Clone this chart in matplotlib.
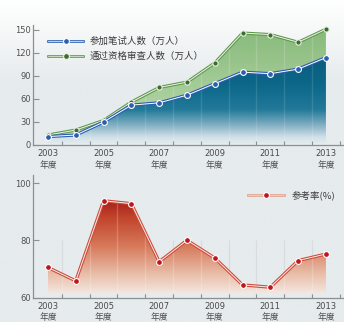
import numpy as np
import matplotlib
matplotlib.use("Agg")
import matplotlib.pyplot as plt
from matplotlib.colors import LinearSegmentedColormap
from matplotlib.lines import Line2D

plt.rcParams['font.family'] = ['Noto Sans CJK SC', 'DejaVu Sans']

# ---- data ----
years = [2003, 2004, 2005, 2006, 2007, 2008, 2009, 2010, 2011, 2012, 2013]
exam_takers = [11, 13, 30, 52, 55, 65, 80, 95, 93, 99, 114]          # 参加笔试人数（万人）
qualified = [13, 19.5, 32, 56, 75, 82, 107, 146, 144, 134, 151]       # 通过资格审查人数（万人）
attend_rate = [70.5, 65.8, 93.8, 92.8, 72.5, 80.0, 73.8, 64.4, 63.6, 72.9, 75.2]  # 参考率(%)
label_years = [2003, 2005, 2007, 2009, 2011, 2013]
top_yticks = [0, 30, 60, 90, 120, 150]
bottom_yticks = [60, 80, 100]

W, H = 344, 322
fig = plt.figure(figsize=(W / 100, H / 100), dpi=100)

# background: white at the top fading to a pale grey-blue
bg = fig.add_axes([0, 0, 1, 1], zorder=-10)
bg_cmap = LinearSegmentedColormap.from_list(
    "bg", [(0, "#e6ebed"), (0.75, "#e6ebed"), (0.9, "#f6f8f8"), (1.0, "#ffffff")])
bg.imshow(np.linspace(0, 1, 256).reshape(-1, 1), origin="lower", cmap=bg_cmap,
          extent=[0, 1, 0, 1], aspect="auto")
bg.set_axis_off()

x_lo, x_hi = 2002.46, 2013.65
half_years = [y + 0.5 for y in years[:-1]] + [2013.5]


def gradient_fill(ax, x, ybot, ytop, cmap, vmin, vmax, z):
    poly = ax.fill_between(x, ybot, ytop, facecolor="none", edgecolor="none")
    path = poly.get_paths()[0]
    im = ax.imshow(np.linspace(0, 1, 256).reshape(-1, 1), origin="lower", cmap=cmap,
                   extent=[x[0], x[-1], vmin, vmax], aspect="auto", zorder=z,
                   interpolation="bilinear")
    im.set_clip_path(path, transform=ax.transData)
    return path


def stripes(ax, path, lo, hi, color, alpha, z):
    vl = ax.vlines(half_years[:-1], lo, hi, colors=color, linewidth=1.0, alpha=alpha, zorder=z)
    vl.set_clip_path(path, transform=ax.transData)


def double_line(ax, x, y, outer, inner, mface, medge, z, lw=2.3, ms=4.2):
    ax.plot(x, y, color=outer, lw=lw, zorder=z, solid_capstyle="round", solid_joinstyle="round")
    ax.plot(x, y, color=inner, lw=0.7, zorder=z + 0.1, solid_joinstyle="round")
    ax.plot(x, y, ls="none", marker="o", ms=ms, mfc=mface, mec=medge, mew=0.8, zorder=z + 0.2)


def legend_entry(ax, x0, x1, xm, y, outer, inner, mface, medge, text, tx, fs):
    kw = dict(transform=ax.transAxes, clip_on=False)
    ax.add_line(Line2D([x0, x1], [y, y], color=outer, lw=1.9, zorder=6, **kw))
    ax.add_line(Line2D([x0, x1], [y, y], color=inner, lw=0.5, zorder=6.1, **kw))
    ax.add_line(Line2D([xm], [y], ls="none", marker="o", ms=4.2, mfc=mface, mec=medge,
                       mew=0.8, zorder=6.2, **kw))
    ax.text(tx, y, text, transform=ax.transAxes, fontsize=fs, color="#3a3a3a",
            va="center", ha="left", zorder=6)


def style_axes(ax, yticks, ylim):
    ax.set_facecolor("none")
    ax.set_xlim(x_lo, x_hi)
    ax.set_ylim(*ylim)
    for s in ("top", "right"):
        ax.spines[s].set_visible(False)
    for s in ("left", "bottom"):
        ax.spines[s].set_color("#8c8f90")
        ax.spines[s].set_linewidth(0.9)
    ax.set_yticks(yticks)
    ax.set_yticklabels([str(v) for v in yticks], family="DejaVu Sans")
    ax.set_xticks(half_years)
    ax.set_xticklabels([])
    ax.tick_params(axis="y", direction="in", length=4, width=0.8, color="#8c8f90",
                   labelsize=6, labelcolor="#505050", pad=1.5)
    ax.tick_params(axis="x", direction="in", length=3, width=0.8, color="#8c8f90")
    for yr in label_years:
        ax.annotate(str(yr), xy=(yr, 0), xycoords=("data", "axes fraction"),
                    xytext=(0, -6.3), textcoords="offset points", ha="center", va="center",
                    fontsize=6, color="#4a4a4a", family="DejaVu Sans")
        ax.annotate("年度", xy=(yr, 0), xycoords=("data", "axes fraction"),
                    xytext=(0, -14.6), textcoords="offset points", ha="center", va="center",
                    fontsize=6.3, color="#4a4a4a")


# ---- top chart: applicants ----
ax1 = fig.add_axes([33 / W, 1 - 145 / H, 311 / W, 120 / H])
blue_cmap = LinearSegmentedColormap.from_list("blue", [
    (0.0, "#e6edef"), (0.08, "#d2e2e8"), (0.22, "#7eadc1"), (0.38, "#22799a"),
    (0.65, "#0c6789"), (1.0, "#0a5b7d")])
green_cmap = LinearSegmentedColormap.from_list("green", [
    (0.0, "#c9e0c0"), (0.4, "#aacf9d"), (1.0, "#86b979")])
p_blue = gradient_fill(ax1, years, np.zeros(len(years)), exam_takers, blue_cmap, 0, 120, 1)
p_green = gradient_fill(ax1, years, exam_takers, qualified, green_cmap, 0, 155, 1)
stripes(ax1, p_blue, 0, 160, "white", 0.12, 1.5)
stripes(ax1, p_green, 0, 160, "white", 0.16, 1.5)
double_line(ax1, years, qualified, "#5e994e", "#eef5e9", "#3d6c30", "#e8f2e2", 3, ms=3.8)
double_line(ax1, years, exam_takers, "#2b5eb0", "#ffffff", "#2b5eb0", "#ffffff", 4)
style_axes(ax1, top_yticks, (0, 156.5))
legend_entry(ax1, 0.048, 0.161, 0.106, 0.867, "#2b5eb0", "#ffffff", "#2b5eb0", "#ffffff",
             "参加笔试人数（万人）", 0.183, 6.8)
legend_entry(ax1, 0.048, 0.161, 0.106, 0.742, "#5e994e", "#eef5e9", "#3d6c30", "#e8f2e2",
             "通过资格审查人数（万人）", 0.183, 6.8)

# ---- bottom chart: attendance rate ----
ax2 = fig.add_axes([33 / W, 1 - 297.5 / H, 311 / W, 122.5 / H])
ax2.vlines(half_years[:-1], 60, 80, colors="#d8dcde", linewidth=0.9, zorder=0.5)
red_cmap = LinearSegmentedColormap.from_list("red", [
    (0.0, "#f3e6df"), (0.2, "#e9bea9"), (0.5, "#d6795a"), (0.8, "#c2452d"), (1.0, "#a41f18")])
p_red = gradient_fill(ax2, years, np.full(len(years), 61.5), attend_rate, red_cmap, 61.5, 94, 1)
stripes(ax2, p_red, 60, 100, "white", 0.2, 1.5)
double_line(ax2, years, attend_rate, "#cc4d3c", "#fbece8", "#c1141d", "#ffffff", 4)
style_axes(ax2, bottom_yticks, (60, 102.8))
legend_entry(ax2, 0.691, 0.807, 0.749, 0.837, "#e0a08c", "#f6ddd4", "#c1141d", "#ffffff",
             "参考率(%)", 0.833, 6.8)

fig.savefig("out.png", dpi=100)
